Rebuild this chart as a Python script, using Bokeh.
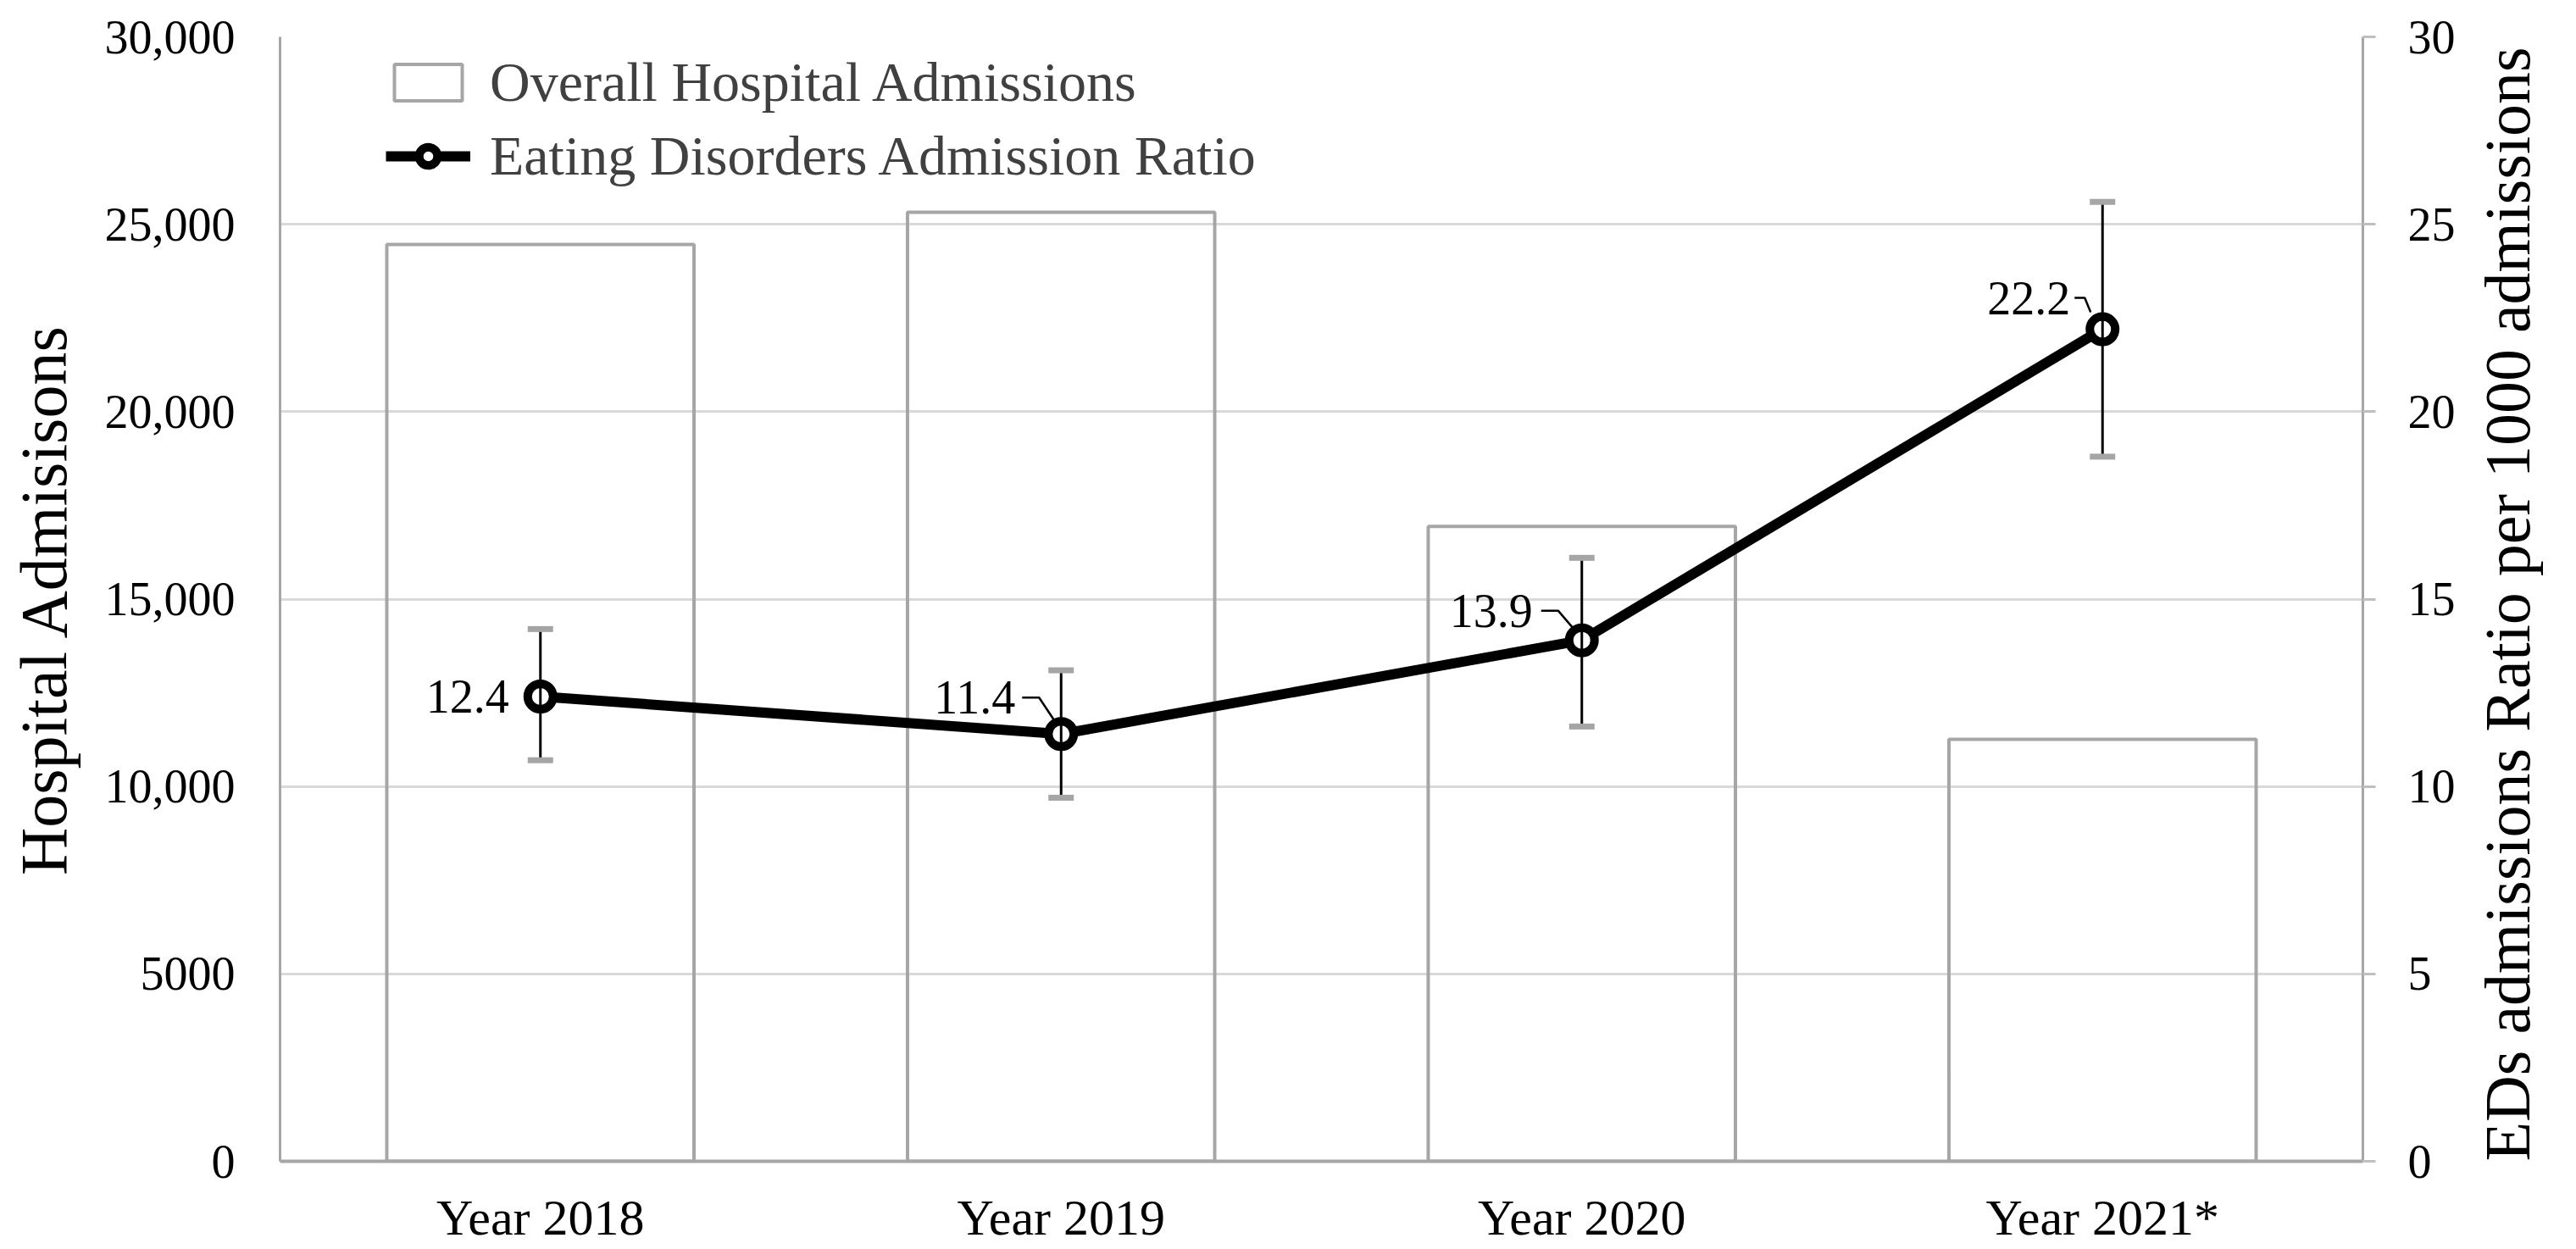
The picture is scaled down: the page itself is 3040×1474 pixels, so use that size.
import math
from bokeh.plotting import figure
from bokeh.models import (ColumnDataSource, FactorRange, Range1d, LinearAxis, FixedTicker,
                          Legend, LegendItem, Whisker, TeeHead, Label)
from bokeh.embed import file_html
from bokeh.resources import INLINE
from bokeh.core.properties import value

# ---------------- data ----------------
categories = ["Year 2018", "Year 2019", "Year 2020", "Year 2021*"]
hospital_admissions = [24460, 25320, 16940, 11260]
ed_ratio = [12.4, 11.4, 13.9, 22.2]
ed_ratio_lower = [10.7, 9.7, 11.6, 18.8]
ed_ratio_upper = [14.2, 13.1, 16.1, 25.6]
left_ticks = [0, 5000, 10000, 15000, 20000, 25000, 30000]
left_tick_labels = ["0", "5000", "10,000", "15,000", "20,000", "25,000", "30,000"]
right_ticks = [0, 5, 10, 15, 20, 25, 30]
series_names = ["Overall Hospital Admissions", "Eating Disorders Admission Ratio"]
left_title = "Hospital Admisisons"
right_title = "EDs admissions Ratio per 1000 admissions"

# ---------------- layout / style ----------------
FONT = "Liberation Serif"
FRAME_W, FRAME_H = 2458, 1327
BL, BR, BT, BB = 330, 252, 43, 104
TICK_FS = "56px"
XTICK_FS = "60px"
TITLE_FS = "78px"
RTITLE_FS = "76px"
LEGEND_FS = "66px"
GRAY = "#a6a6a6"
GRID = "#d9d9d9"

# data-label offsets (screen px; negative dy = up)
label_dx = [-37, -54, -58, -38]
label_dy = [0, -43, -35, -37]
# leader lines (screen px relative to the point, y up positive)
leader_px = [None,
             [(-46, 43), (-26, 43), (-8, 16)],
             [(-48, 35), (-28, 35), (-10, 14)],
             [(-33, 37), (-21, 37), (-14, 20)]]

y_max_left = 30000
y_max_right = 30

p = figure(x_range=FactorRange(factors=categories, range_padding=0),
           y_range=Range1d(0, y_max_left),
           frame_width=FRAME_W, frame_height=FRAME_H,
           min_border_left=BL, min_border_right=BR, min_border_top=BT, min_border_bottom=BB,
           output_backend="svg", toolbar_location=None,
           background_fill_color="white", border_fill_color="white")
p.extra_y_ranges = {"ratio": Range1d(0, y_max_right)}
p.outline_line_color = None
p.xgrid.visible = False
p.ygrid.grid_line_color = GRID
p.ygrid.grid_line_width = 3

# left axis
ya = p.yaxis[0]
ya.ticker = FixedTicker(ticks=left_ticks)
ya.major_label_overrides = {t: s for t, s in zip(left_ticks, left_tick_labels)}
ya.axis_line_color = GRAY
ya.axis_line_width = 3
ya.major_tick_out = 0
ya.major_tick_in = 0
ya.minor_tick_out = 0
ya.minor_tick_in = 0
ya.major_label_standoff = 53
ya.major_label_text_font = FONT
ya.major_label_text_font_size = TICK_FS
ya.major_label_text_color = "black"
ya.axis_label = left_title
ya.axis_label_standoff = 26
ya.axis_label_text_font = FONT
ya.axis_label_text_font_size = TITLE_FS
ya.axis_label_text_font_style = "normal"
ya.axis_label_text_color = "black"

# right axis
ra = LinearAxis(y_range_name="ratio", ticker=FixedTicker(ticks=right_ticks))
ra.axis_line_color = GRAY
ra.axis_line_width = 3
ra.major_tick_out = 15
ra.major_tick_in = 0
ra.major_tick_line_color = "#bfbfbf"
ra.major_tick_line_width = 3
ra.minor_tick_out = 0
ra.minor_tick_in = 0
ra.major_label_standoff = 38
ra.major_label_text_font = FONT
ra.major_label_text_font_size = TICK_FS
ra.major_label_text_color = "black"
use_axis_title = "axis_label_orientation" in LinearAxis.properties()
if use_axis_title:
    ra.axis_label = right_title
    ra.axis_label_orientation = math.pi / 2
    ra.axis_label_standoff = 58
    ra.axis_label_text_font = FONT
    ra.axis_label_text_font_size = RTITLE_FS
    ra.axis_label_text_font_style = "normal"
    ra.axis_label_text_color = "black"
    if "axis_label_align" in LinearAxis.properties():
        for opt in ("start", "left"):
            try:
                ra.axis_label_align = opt
                break
            except Exception:
                pass
p.add_layout(ra, "right")

# bottom axis
xa = p.xaxis[0]
xa.axis_line_color = GRAY
xa.axis_line_width = 4
xa.major_tick_line_color = None
xa.major_tick_out = 0
xa.major_tick_in = 0
xa.major_label_standoff = 33
xa.major_label_text_font = FONT
xa.major_label_text_font_size = XTICK_FS
xa.major_label_text_color = "black"

src = ColumnDataSource(dict(cat=categories, adm=hospital_admissions, ratio=ed_ratio,
                            lower=ed_ratio_lower, upper=ed_ratio_upper,
                            label=["{:.1f}".format(v) for v in ed_ratio],
                            dx=label_dx, dy=label_dy))

bars = p.vbar(x="cat", top="adm", width=0.59, source=src,
              fill_color=None, line_color=GRAY, line_width=4)

line_r = p.line(x="cat", y="ratio", source=src, y_range_name="ratio",
                line_color="black", line_width=12, line_join="round")
sc_r = p.scatter(x="cat", y="ratio", source=src, y_range_name="ratio", marker="circle",
                 size=30, fill_color="white", line_color="black", line_width=10)

wh = Whisker(source=src, base="cat", upper="upper", lower="lower", dimension="height",
             y_range_name="ratio", line_color="black", line_width=3, level="annotation",
             upper_head=TeeHead(size=30, line_color="#a5a5a5", line_width=7),
             lower_head=TeeHead(size=30, line_color="#a5a5a5", line_width=7))
p.add_layout(wh)

p.text(x="cat", y="ratio", text="label", x_offset="dx", y_offset="dy", source=src,
       y_range_name="ratio", text_align="right", text_baseline="middle",
       text_font=value(FONT), text_font_size=TICK_FS, text_color="black")

# leader lines derived from point positions
px_per_cat = FRAME_W / len(categories)
px_per_unit = FRAME_H / y_max_right
lxs, lys = [], []
for i, geo in enumerate(leader_px):
    if geo is None:
        continue
    xc = i + 0.5
    lxs.append([xc + dx / px_per_cat for dx, dy in geo])
    lys.append([ed_ratio[i] + dy / px_per_unit for dx, dy in geo])
p.multi_line(xs=lxs, ys=lys, y_range_name="ratio", line_color="black", line_width=2.5)

if not use_axis_title:
    p.add_layout(Label(x=FRAME_W + 194, y=FRAME_H / 2, x_units="screen", y_units="screen",
                       text=right_title, angle=math.pi / 2, level="overlay",
                       text_align="center", text_baseline="middle",
                       text_font=FONT, text_font_size=RTITLE_FS, text_color="black"))

legend = Legend(items=[LegendItem(label=series_names[0], renderers=[bars]),
                       LegendItem(label=series_names[1], renderers=[line_r, sc_r])],
                location=(125, 1148), border_line_color=None, background_fill_alpha=0,
                padding=0, margin=0, spacing=11, glyph_width=100, glyph_height=54,
                label_standoff=23, label_text_font=FONT, label_text_font_size=LEGEND_FS,
                label_text_color="#404040")
p.add_layout(legend)

open("out.html", "w").write(file_html(p, INLINE))
